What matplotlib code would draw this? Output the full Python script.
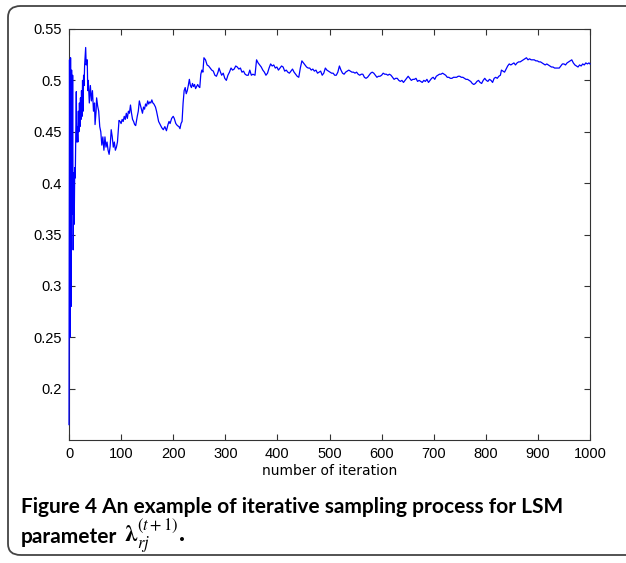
import matplotlib
matplotlib.use("Agg")
import matplotlib.pyplot as plt
from matplotlib.patches import FancyBboxPatch

plt.rcParams["mathtext.fontset"] = "stix"

iters = [0, 1, 2, 3, 4, 5, 6, 7, 8, 9, 10, 11, 12, 13, 14, 15, 16, 17, 18, 19,
         20, 21, 22, 23, 24, 25, 26, 27, 28, 29, 30, 32, 33, 35, 36, 37, 39, 41, 43, 45,
         47, 49, 50, 52, 53, 55, 57, 59, 61, 63, 65, 67, 69, 71, 73, 75, 77, 79, 81, 83,
         85, 87, 89, 91, 93, 96, 98, 100, 102, 104, 106, 108, 110, 112, 114, 116, 118, 120, 122, 124,
         126, 128, 131, 133, 135, 137, 139, 141, 143, 145, 147, 149, 151, 153, 155, 157, 159, 161, 163, 166,
         168, 170, 172, 175, 178, 181, 184, 187, 190, 192, 194, 197, 200, 202, 205, 208, 211, 213, 215, 217,
         219, 221, 223, 225, 227, 229, 231, 233, 235, 237, 239, 241, 243, 245, 247, 249, 251, 253, 255, 257,
         259, 262, 265, 268, 271, 274, 277, 280, 283, 286, 288, 290, 293, 296, 299, 302, 305, 308, 311, 314,
         317, 320, 323, 326, 329, 332, 335, 338, 341, 344, 347, 350, 353, 357, 360, 363, 366, 369, 372, 375,
         378, 381, 384, 387, 390, 393, 396, 399, 402, 405, 408, 411, 414, 417, 420, 423, 426, 429, 432, 435,
         438, 441, 444, 447, 450, 453, 456, 459, 462, 465, 468, 471, 474, 477, 480, 483, 486, 489, 492, 495,
         498, 501, 504, 507, 510, 513, 516, 519, 522, 525, 528, 531, 534, 537, 540, 543, 546, 549, 552, 555,
         558, 561, 564, 567, 570, 573, 576, 579, 582, 585, 588, 591, 594, 597, 600, 603, 606, 609, 612, 615,
         618, 621, 624, 627, 630, 633, 636, 639, 642, 645, 648, 651, 654, 657, 660, 663, 666, 669, 672, 675,
         678, 681, 684, 687, 690, 693, 696, 699, 702, 705, 708, 711, 714, 717, 720, 723, 726, 729, 732, 735,
         738, 741, 744, 747, 750, 753, 756, 759, 762, 765, 768, 771, 774, 777, 780, 783, 786, 789, 792, 795,
         798, 801, 804, 807, 810, 813, 816, 819, 822, 825, 828, 830, 833, 836, 839, 842, 845, 848, 851, 854,
         857, 860, 863, 866, 869, 872, 875, 878, 881, 884, 887, 890, 893, 896, 899, 902, 905, 908, 911, 914,
         917, 920, 923, 926, 929, 932, 935, 938, 941, 944, 947, 950, 953, 956, 959, 962, 965, 968, 971, 974,
         977, 980, 983, 986, 989, 992, 995, 998, 1000]
values = [0.165, 0.52, 0.25, 0.522, 0.28, 0.51, 0.37, 0.505, 0.335, 0.41, 0.36, 0.415, 0.405, 0.45, 0.489, 0.44, 0.455, 0.44, 0.47, 0.45,
          0.478, 0.455, 0.483, 0.462, 0.49, 0.465, 0.50, 0.47, 0.505, 0.495, 0.515, 0.532, 0.515, 0.52, 0.49, 0.50, 0.478, 0.495, 0.48, 0.49,
          0.47, 0.478, 0.457, 0.47, 0.483, 0.475, 0.47, 0.455, 0.45, 0.437, 0.445, 0.432, 0.445, 0.435, 0.44, 0.432, 0.428, 0.436, 0.452, 0.445,
          0.435, 0.44, 0.432, 0.435, 0.44, 0.461, 0.46, 0.458, 0.462, 0.46, 0.465, 0.462, 0.468, 0.463, 0.47, 0.468, 0.476, 0.468, 0.462, 0.46,
          0.457, 0.456, 0.465, 0.47, 0.48, 0.476, 0.472, 0.468, 0.474, 0.472, 0.477, 0.475, 0.48, 0.477, 0.479, 0.478, 0.481, 0.478, 0.477, 0.474,
          0.47, 0.465, 0.46, 0.457, 0.454, 0.452, 0.455, 0.451, 0.457, 0.46, 0.458, 0.463, 0.465, 0.463, 0.458, 0.456, 0.455, 0.453, 0.458, 0.46,
          0.478, 0.49, 0.493, 0.487, 0.49, 0.495, 0.501, 0.495, 0.493, 0.497, 0.494, 0.496, 0.492, 0.494, 0.496, 0.494, 0.493, 0.506, 0.51, 0.508,
          0.522, 0.52, 0.515, 0.514, 0.512, 0.51, 0.509, 0.505, 0.504, 0.508, 0.512, 0.509, 0.505, 0.507, 0.502, 0.50, 0.505, 0.508, 0.512, 0.51,
          0.511, 0.514, 0.513, 0.511, 0.512, 0.508, 0.509, 0.506, 0.505, 0.505, 0.51, 0.505, 0.506, 0.505, 0.52, 0.517, 0.515, 0.513, 0.51, 0.508,
          0.505, 0.507, 0.512, 0.516, 0.514, 0.515, 0.512, 0.513, 0.51, 0.512, 0.514, 0.513, 0.509, 0.51, 0.508, 0.507, 0.509, 0.511, 0.508, 0.506,
          0.504, 0.503, 0.512, 0.519, 0.517, 0.515, 0.513, 0.512, 0.512, 0.51, 0.511, 0.509, 0.51, 0.507, 0.508, 0.509, 0.505, 0.507, 0.512, 0.51,
          0.509, 0.508, 0.507, 0.507, 0.505, 0.505, 0.508, 0.514, 0.51, 0.507, 0.506, 0.508, 0.509, 0.51, 0.509, 0.508, 0.508, 0.507, 0.508, 0.506,
          0.505, 0.506, 0.506, 0.503, 0.502, 0.503, 0.505, 0.507, 0.508, 0.507, 0.505, 0.503, 0.504, 0.504, 0.505, 0.507, 0.506, 0.506, 0.505, 0.506,
          0.505, 0.503, 0.501, 0.502, 0.502, 0.50, 0.499, 0.50, 0.498, 0.50, 0.502, 0.504, 0.502, 0.50, 0.501, 0.501, 0.502, 0.499, 0.50, 0.499,
          0.498, 0.50, 0.499, 0.501, 0.498, 0.50, 0.502, 0.503, 0.501, 0.504, 0.505, 0.506, 0.506, 0.507, 0.506, 0.505, 0.503, 0.503, 0.502, 0.502,
          0.503, 0.503, 0.503, 0.504, 0.504, 0.503, 0.503, 0.502, 0.501, 0.501, 0.50, 0.499, 0.497, 0.496, 0.497, 0.499, 0.50, 0.498, 0.497, 0.50,
          0.502, 0.50, 0.499, 0.501, 0.50, 0.498, 0.502, 0.503, 0.502, 0.504, 0.505, 0.51, 0.509, 0.508, 0.511, 0.514, 0.516, 0.515, 0.516, 0.517,
          0.515, 0.517, 0.518, 0.518, 0.519, 0.52, 0.521, 0.522, 0.52, 0.521, 0.52, 0.52, 0.52, 0.519, 0.519, 0.518, 0.518, 0.517, 0.516, 0.515,
          0.516, 0.515, 0.514, 0.513, 0.513, 0.512, 0.512, 0.512, 0.512, 0.514, 0.516, 0.516, 0.515, 0.517, 0.518, 0.519, 0.52, 0.517, 0.515, 0.514,
          0.513, 0.515, 0.514, 0.516, 0.515, 0.517, 0.516, 0.517, 0.516]

x_ticks = [0, 100, 200, 300, 400, 500, 600, 700, 800, 900, 1000]
y_ticks = [0.2, 0.25, 0.3, 0.35, 0.4, 0.45, 0.5, 0.55]
y_tick_labels = ["0.2", "0.25", "0.3", "0.35", "0.4", "0.45", "0.5", "0.55"]

W, H = 626, 563
fig = plt.figure(figsize=(W / 100, H / 100), dpi=100)

# rounded frame around figure + caption
frame = FancyBboxPatch((8 / W, 8 / H), (660 - 8) / W, (557 - 8) / H,
                       boxstyle="round,pad=0,rounding_size=0.02",
                       transform=fig.transFigure, facecolor="none",
                       edgecolor="#444444", linewidth=1.3, clip_on=False)
fig.patches.append(frame)

ax = fig.add_axes([69 / W, 1 - 440 / H, (590 - 69) / W, (440 - 29) / H])
ax.plot(iters, values, color="#0000ff", linewidth=0.9, zorder=3, clip_on=False)

ax.set_xlim(0, 1000)
ax.set_ylim(0.15, 0.55)
ax.set_xticks(x_ticks)
ax.set_yticks(y_ticks)
ax.set_yticklabels(y_tick_labels)
ax.tick_params(direction="in", top=True, right=True, length=4, width=0.8,
               color="#333333", labelsize=10.5, pad=5)
for lbl in ax.get_xticklabels() + ax.get_yticklabels():
    lbl.set_family("Liberation Sans")
for s in ax.spines.values():
    s.set_color("#333333")
    s.set_linewidth(0.8)
ax.set_xlabel("number of iteration", family="Liberation Sans Narrow", fontsize=10, labelpad=2)

fig.text(21 / W, 1 - 507 / H, "Figure 4 An example of iterative sampling process for LSM",
         family="Lato", fontweight="bold", fontsize=15, va="center", ha="left")
fig.text(21 / W, 1 - 543 / H, "parameter",
         family="Lato", fontweight="bold", fontsize=15, va="baseline", ha="left")
fig.text(124 / W, 1 - 543 / H, r"$\mathbf{\lambda}_{\mathit{rj}}^{(t+1)}\mathbf{.}$",
         fontsize=17, va="baseline", ha="left")

fig.savefig("out.png", dpi=100)
